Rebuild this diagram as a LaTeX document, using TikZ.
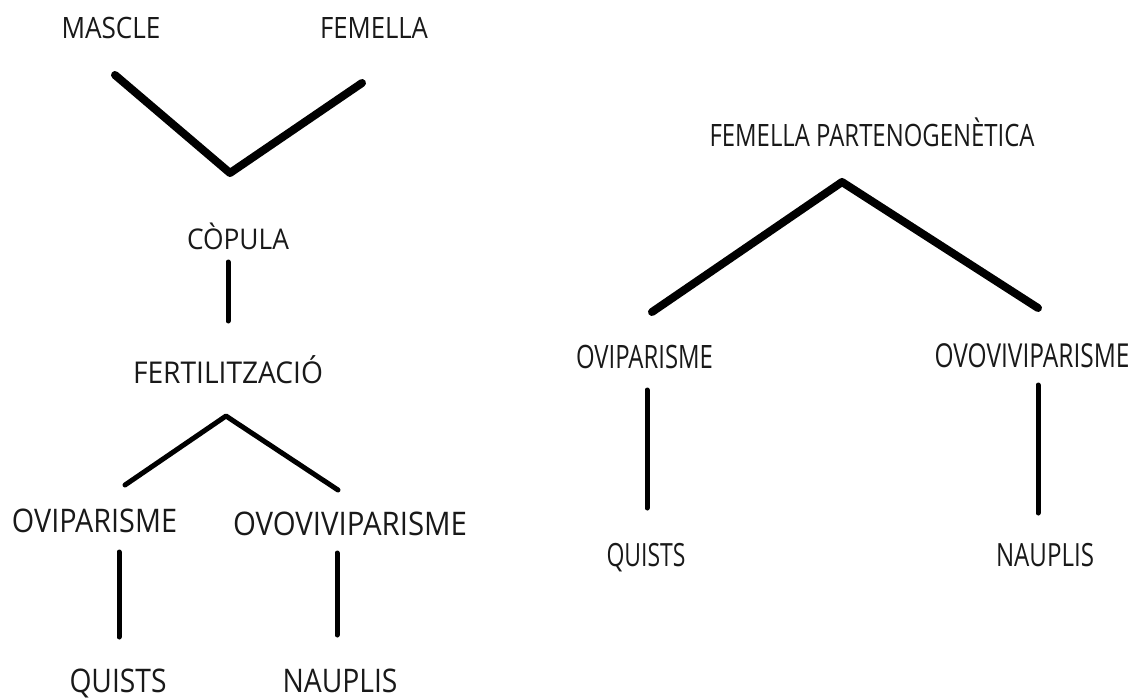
\documentclass[tikz,border=0pt]{standalone}
\usepackage{fontspec}
\usepackage{graphicx}
\setmainfont{Open Sans}
\newsavebox\lblbox
\newcommand\lbl[3]{\sbox\lblbox{\fontsize{#2pt}{#2pt}\selectfont #3}\pgfmathsetmacro\lblsx{#1/(\wd\lblbox/1pt)}\scalebox{\lblsx}[1]{\usebox\lblbox}}
\tikzset{
  txt/.style={inner sep=0pt, outer sep=0pt, anchor=base, text=black!90},
  thick8/.style={line width=8pt, line cap=round, line join=round},
  thin5/.style={line width=5pt, line cap=round, line join=round},
}
\begin{document}
\begin{tikzpicture}[x=1pt,y=-1pt]
\fill[white] (0,0) rectangle (1136,698);
\useasboundingbox (0,0) rectangle (1136,698);
% left tree
\node[txt] (mascle) at (111,39) {\lbl{99}{29.4}{MASCLE}};
\node[txt] (femella) at (374,39) {\lbl{108}{29.4}{FEMELLA}};
\node[txt] (copula) at (238,249) {\lbl{102}{28.5}{CÒPULA}};
\node[txt] (fert) at (228,383) {\lbl{190}{30}{FERTILITZACIÓ}};
\node[txt] (ovipL) at (94.5,532) {\lbl{165}{32.5}{OVIPARISME}};
\node[txt] (ovovL) at (350,535) {\lbl{234}{32.5}{OVOVIVIPARISME}};
\node[txt] (quistsL) at (118,692) {\lbl{97}{32.5}{QUISTS}};
\node[txt] (nauplisL) at (340,692) {\lbl{115}{32.5}{NAUPLIS}};
% right tree
\node[txt] (femP) at (872,147) {\lbl{325}{30.8}{FEMELLA PARTENOGENÈTICA}};
\node[txt] (ovipR) at (644.5,368) {\lbl{137}{32.2}{OVIPARISME}};
\node[txt] (ovovR) at (1032,367) {\lbl{195}{33}{OVOVIVIPARISME}};
\node[txt] (quistsR) at (646,566) {\lbl{79}{32}{QUISTS}};
\node[txt] (nauplisR) at (1045,566) {\lbl{98}{32}{NAUPLIS}};
% connector end points
\coordinate (vL) at (115,75);
\coordinate (vA) at (230,173);
\coordinate (vR) at (362,83);
\coordinate (cT) at (228,262);
\coordinate (cB) at (228,321);
\coordinate (fA) at (226,416);
\coordinate (fL) at (125,485);
\coordinate (fR) at (338,490);
\coordinate (oLT) at (119,552);
\coordinate (oLB) at (119,637);
\coordinate (vLT) at (337,553);
\coordinate (vLB) at (337,635);
\coordinate (pA) at (842,182);
\coordinate (pL) at (652,312);
\coordinate (pR) at (1038,308);
\coordinate (oRT) at (647,390);
\coordinate (oRB) at (647,508);
\coordinate (vRT) at (1038,385);
\coordinate (vRB) at (1038,513);
% connectors
\draw[thick8] (vL) -- (vA) -- (vR);
\draw[thin5] (cT) -- (cB);
\draw[thin5] (fL) -- (fA) -- (fR);
\draw[thin5] (oLT) -- (oLB);
\draw[thin5] (vLT) -- (vLB);
\draw[thick8] (pL) -- (pA) -- (pR);
\draw[thin5] (oRT) -- (oRB);
\draw[thin5] (vRT) -- (vRB);
\end{tikzpicture}
\end{document}
